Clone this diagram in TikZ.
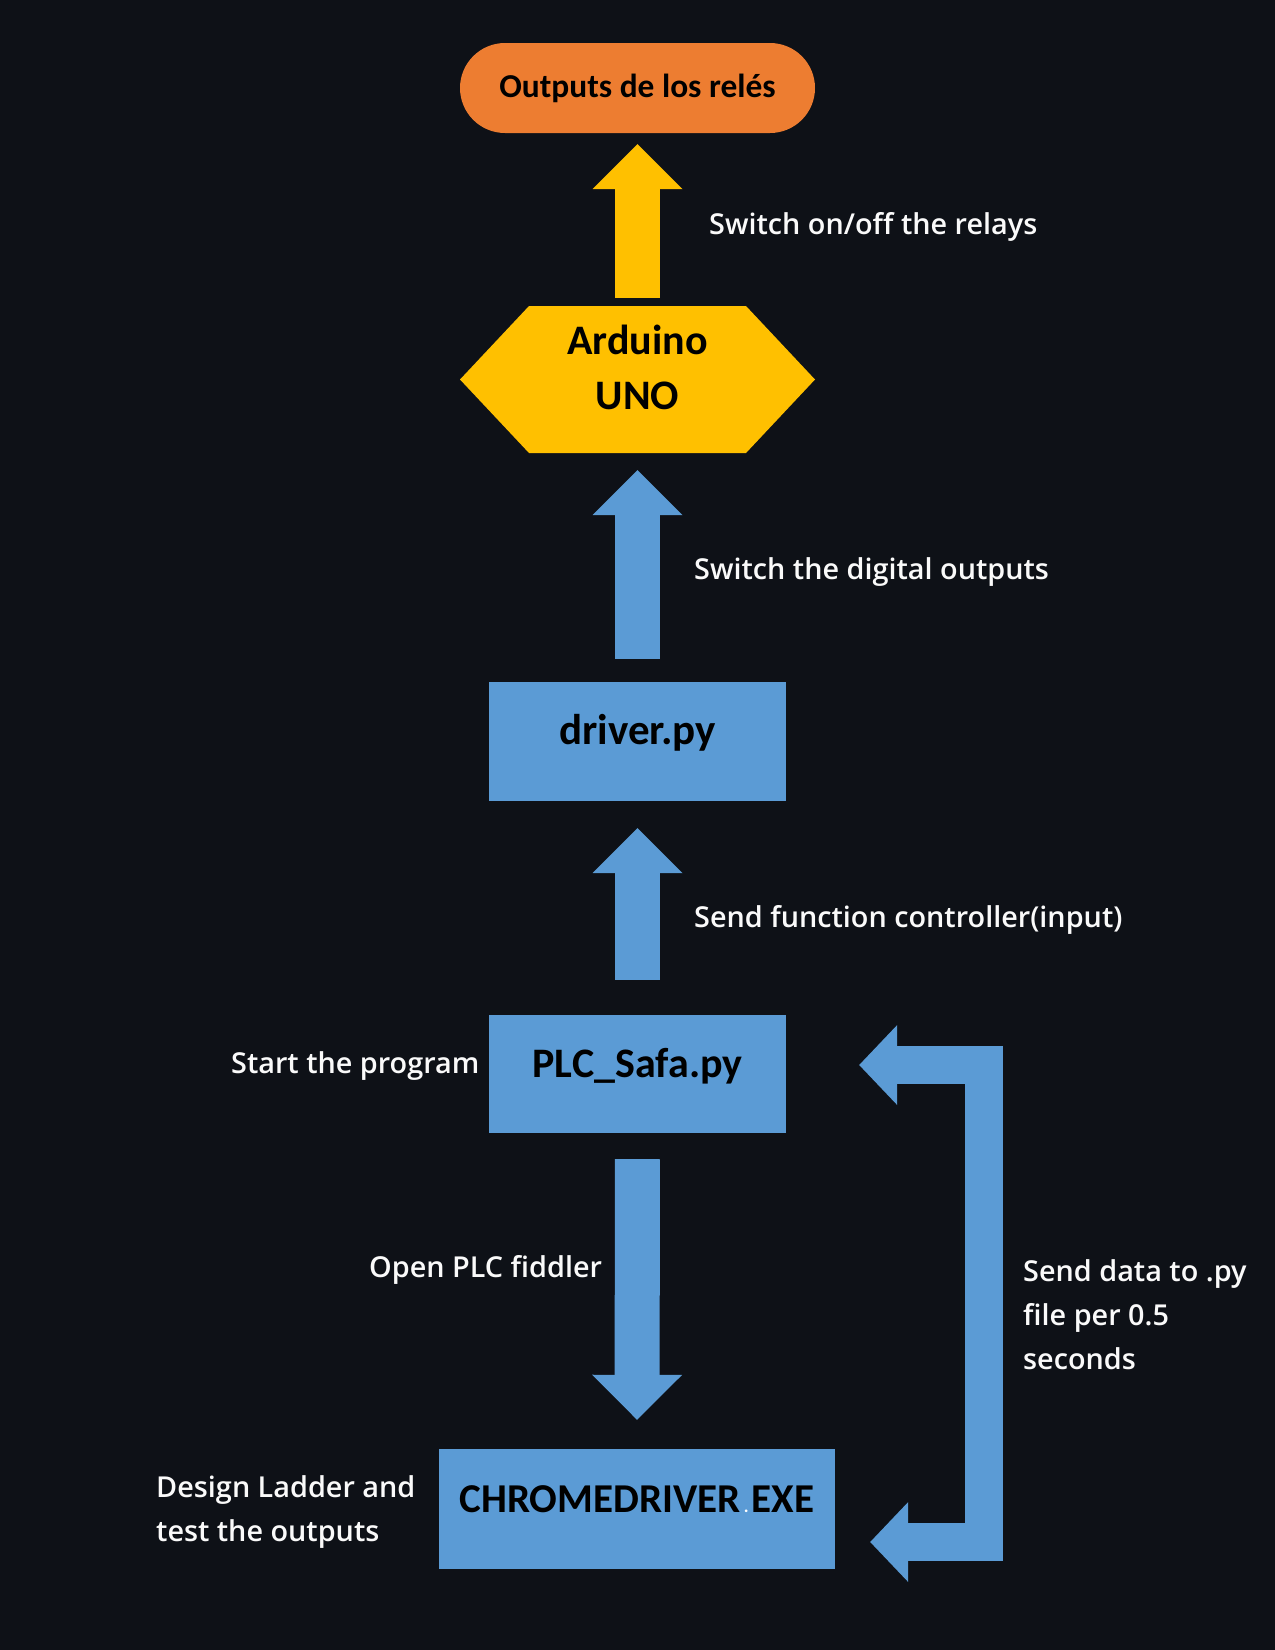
\documentclass[tikz,border=0pt]{standalone}
\usepackage{fontspec}
\setmainfont{Carlito}
\newfontfamily\lblfont{Open Sans Semibold}
\usepackage{tikz}
\usetikzlibrary{shapes.misc, arrows.meta}
\usepackage{xcolor}
\definecolor{bgcol}{HTML}{0E1117}
\definecolor{boxblue}{HTML}{5B9BD5}
\definecolor{ardyellow}{HTML}{FFC000}
\definecolor{outorange}{HTML}{ED7D31}
\definecolor{lblwhite}{HTML}{FAFAFA}

\begin{document}
\begin{tikzpicture}[x=1pt, y=-1pt,
                    box/.style={rectangle, fill=boxblue, inner sep=0pt, minimum width=297pt, minimum height=119pt,
                                font=\fontsize{42}{50}\selectfont\bfseries, text height=27pt, text depth=21pt},
                    hexbox/.style={rectangle, inner sep=0pt, minimum width=355pt, minimum height=147pt,
                                path picture={\fill[ardyellow] (path picture bounding box.west)
                                    -- ([xshift=69pt]path picture bounding box.north west)
                                    -- ([xshift=-69pt]path picture bounding box.north east)
                                    -- (path picture bounding box.east)
                                    -- ([xshift=-69pt]path picture bounding box.south east)
                                    -- ([xshift=69pt]path picture bounding box.south west) -- cycle;}},
                    lbl/.style={text=lblwhite, inner sep=0pt, anchor=base west, align=left,
                                font=\lblfont\fontsize{28.8}{44}\selectfont},
                    blk/.style={draw=boxblue, line width=45pt, -{Triangle[width=90pt,length=45pt,line width=0pt]}},
                    yblk/.style={blk, draw=ardyellow}]

    \fill[bgcol] (0,0) rectangle (1275,1650);
    \useasboundingbox (0,0) rectangle (1275,1650);

    \node[rounded rectangle, fill=outorange, inner sep=0pt, minimum width=355pt, minimum height=90pt,
          font=\fontsize{33.4}{40}\selectfont\bfseries] (out) at (637.5,88) {Outputs de los relés};
    \node[hexbox, align=center, font=\fontsize{42}{55}\selectfont\bfseries,
          text height=80pt, text depth=20pt] (ard) at (637.5,379.5) {Arduino\\UNO};
    \node[box, font=\fontsize{43}{50}\selectfont\bfseries] (drv) at (637.5,741.5) {driver.py};
    \node[box, minimum height=118pt] (plc) at (637.5,1074) {PLC\_Safa.py};
    \node[box, minimum width=396pt, minimum height=120pt, font=\fontsize{41}{50}\selectfont\bfseries]
          (chr) at (637,1509) {CHROMEDRIVER\makebox[0.27em]{\color{white}\fontsize{18}{18}\selectfont.}EXE};

    % block arrows
    \draw[yblk, shorten <=8pt, shorten >=11pt] (ard.north) -- (out.south);
    \draw[blk, shorten <=23pt, shorten >=17pt] (drv.north) -- (ard.south);
    \draw[blk, shorten <=35pt, shorten >=27pt] (plc.north) -- (drv.south);
    \draw[blk, shorten <=26pt, shorten >=29pt] (plc.south) -- (chr.north);

    % feedback loop
    \coordinate (lt) at ([shift={(73,-9)}]plc.east);
    \coordinate (lb) at ([shift={(35,33)}]chr.east);
    \draw[draw=boxblue, line width=38pt, line join=miter,
          {Triangle[width=80pt,length=38pt,line width=0pt]}-{Triangle[width=80pt,length=38pt,line width=0pt]}]
          (lb) -- ++(113.5,0) |- (lt);

    % labels
    \node[lbl] (lrel) at (709,234) {Switch on/off the relays};
    \node[lbl] (ldig) at (694,579) {Switch the digital outputs};
    \node[lbl] (lfun) at (694,927) {Send function controller(input)};
    \node[lbl] (lstart) at (231,1073) {Start the program};
    \node[lbl] (lopen) at (369,1277) {Open PLC fiddler};
    \node[lbl] (ldesign) at (156,1541) {Design Ladder and\\test the outputs};
    \node[lbl] (ldata) at (1023,1369) {Send data to .py\\file per 0.5\\seconds};
\end{tikzpicture}
\end{document}
